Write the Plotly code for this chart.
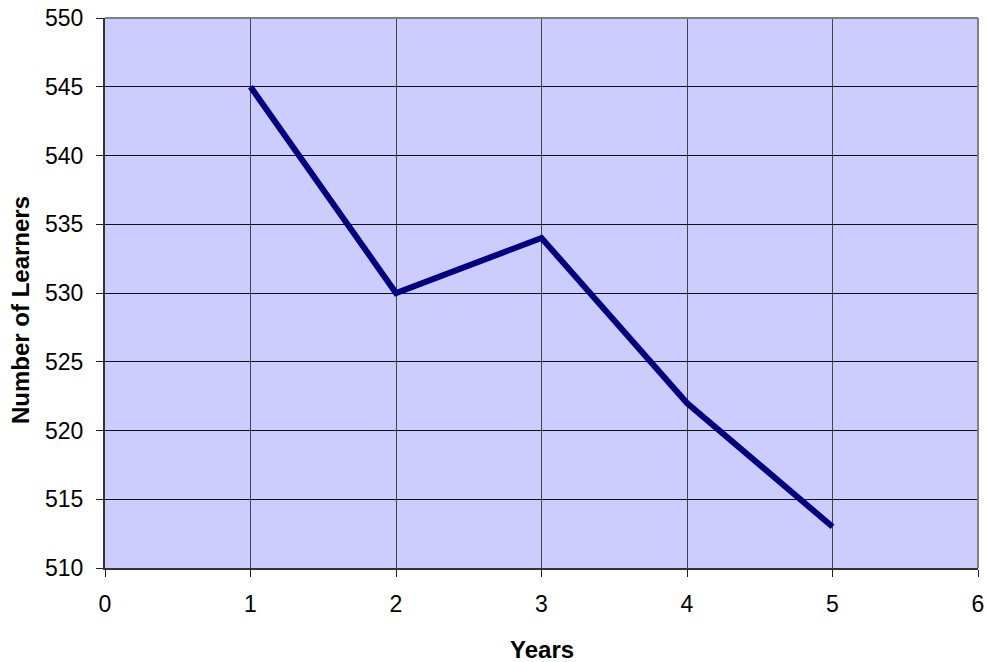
import plotly.graph_objects as go

years = [1, 2, 3, 4, 5]
learners = [545, 530, 534, 522, 513]
x_ticks = [0, 1, 2, 3, 4, 5, 6]
y_ticks = [510, 515, 520, 525, 530, 535, 540, 545, 550]

fig = go.Figure()
fig.add_trace(go.Scatter(x=years, y=learners, mode="lines",
                         line=dict(color="#000080", width=6), showlegend=False))

font = "Liberation Sans, Arial, sans-serif"
fig.update_layout(
    width=988, height=662,
    margin=dict(l=105, r=10, t=18, b=94, autoexpand=False),
    paper_bgcolor="white", plot_bgcolor="#CCCCFF",
    font=dict(family=font, size=23, color="black"),
    xaxis=dict(range=[0, 6], tickvals=x_ticks, showgrid=True, gridcolor="#444444", gridwidth=1,
               showline=True, linecolor="#333333", linewidth=2, mirror=False,
               ticks="outside", ticklen=7, tickcolor="#222222", zeroline=False,
               ticklabelstandoff=7, tickfont=dict(size=23), automargin=False),
    yaxis=dict(range=[510, 550], tickvals=y_ticks, showgrid=True, gridcolor="#111111", gridwidth=1,
               showline=True, linecolor="#333333", linewidth=2, mirror=False,
               ticks="outside", ticklen=7, tickcolor="#222222", zeroline=False,
               ticklabelstandoff=8, tickfont=dict(size=23), automargin=False),
    shapes=[
        dict(type="line", xref="paper", yref="paper", x0=0, x1=1, y0=1, y1=1,
             line=dict(color="#808080", width=2)),
        dict(type="line", xref="paper", yref="paper", x0=1, x1=1, y0=0, y1=1,
             line=dict(color="#808080", width=2)),
    ],
    annotations=[
        dict(text="<b>Number of Learners</b>", xref="paper", yref="paper",
             x=-0.0974, y=0.469, textangle=-90, showarrow=False,
             xanchor="center", yanchor="middle", font=dict(size=24)),
        dict(text="<b>Years</b>", xref="paper", yref="paper",
             x=0.5, y=-0.149, showarrow=False,
             xanchor="center", yanchor="middle", font=dict(size=24)),
    ],
)
fig.write_html("out.html", config={"displayModeBar": False},
               post_script="document.body.style.margin='0px';")
